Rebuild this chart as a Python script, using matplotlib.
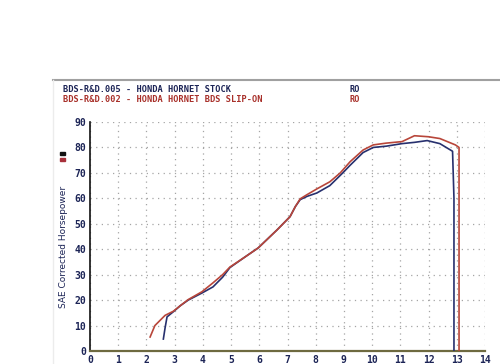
import matplotlib
matplotlib.use("Agg")
import matplotlib.pyplot as plt
from matplotlib.lines import Line2D
from matplotlib.patches import Rectangle

# RPM (x1000) and SAE corrected horsepower
stock_rpm = [2.60, 2.66, 2.73, 2.85, 2.95, 3.2, 3.48, 3.97, 4.36, 4.7, 4.96, 5.5, 5.96, 6.63, 7.09,
             7.28, 7.45, 7.7, 8.04, 8.5, 8.96, 9.22, 9.68, 10.04, 10.5, 11.06, 11.5, 11.95, 12.4,
             12.85, 12.90, 12.90]
stock_hp = [4.7, 9.0, 13.4, 14.5, 15.4, 17.8, 20.0, 22.8, 25.2, 29.0, 32.8, 37.0, 40.5, 47.6, 52.8,
            56.8, 59.5, 60.8, 62.1, 65.0, 70.0, 73.0, 78.0, 80.0, 80.5, 81.5, 82.0, 82.7, 81.5,
            78.5, 60.0, 0.0]

slipon_rpm = [2.13, 2.3, 2.66, 2.95, 3.2, 3.48, 3.97, 4.36, 4.7, 4.96, 5.5, 5.96, 6.63, 7.09,
              7.28, 7.45, 7.7, 8.04, 8.5, 8.87, 9.22, 9.68, 10.04, 10.5, 11.06, 11.5, 12.0, 12.4,
              12.95, 13.08, 13.08]
slipon_hp = [5.5, 10.0, 14.0, 15.6, 17.8, 20.2, 23.3, 26.8, 30.0, 33.0, 37.0, 40.5, 47.6, 52.8,
             56.8, 59.8, 61.5, 63.7, 66.5, 70.0, 74.4, 79.0, 81.0, 81.7, 82.3, 84.6, 84.2, 83.5,
             81.0, 80.0, 0.0]

x_ticks = list(range(0, 15))
y_ticks = list(range(0, 91, 10))

navy = "#1c2456"
red = "#a8302a"

fig = plt.figure(figsize=(5.0, 3.64), dpi=100)
ax = fig.add_axes([0.18, 13/364, 0.79, 229/364])

ax.plot(stock_rpm, stock_hp, color="#27306e", lw=1.2, zorder=3)
ax.plot(slipon_rpm, slipon_hp, color="#b8463a", lw=1.2, zorder=3)

ax.set_xlim(0, 14)
ax.set_ylim(0, 90)
ax.set_xticks(x_ticks)
ax.set_yticks(y_ticks)
ax.grid(True, color="#a5a5a5", linestyle=(0, (1, 3.5)), linewidth=0.9)
for s in ["top", "right"]:
    ax.spines[s].set_visible(False)
ax.spines["left"].set_color("#111111")
ax.spines["left"].set_linewidth(1.2)
ax.spines["bottom"].set_color("#6e6a40")
ax.spines["bottom"].set_linewidth(1.6)
ax.tick_params(length=0, labelsize=7, colors=navy, pad=3)
for lab in ax.get_xticklabels() + ax.get_yticklabels():
    lab.set_family("DejaVu Sans Mono")
    lab.set_fontweight("bold")

fig.text(63/500, 1 - 247/364, "SAE Corrected Horsepower", rotation=90, ha="center", va="center",
         fontsize=6.5, color=navy, family="DejaVu Sans")

# small legend swatches
fig.patches.append(Rectangle((60/500, 1 - 155/364), 5/500, 3.5/364, transform=fig.transFigure,
                             color="#111111", zorder=5))
fig.patches.append(Rectangle((60/500, 1 - 161/364), 5/500, 3.5/364, transform=fig.transFigure,
                             color="#a8303a", zorder=5))

# header line
fig.add_artist(Line2D([53/500, 1.0], [1 - 80/364, 1 - 80/364], color="#a0a0a0", lw=1.5,
                      transform=fig.transFigure))
fig.add_artist(Line2D([53/500, 53/500], [1 - 80/364, 0], color="#ececec", lw=1.0,
                      transform=fig.transFigure))

fig.text(63/500, 1 - 90/364, "BDS-R&D.005 - HONDA HORNET STOCK", ha="left", va="center",
         fontsize=6.2, color=navy, family="DejaVu Sans Mono", fontweight="bold")
fig.text(63/500, 1 - 100/364, "BDS-R&D.002 - HONDA HORNET BDS SLIP-ON", ha="left", va="center",
         fontsize=6.2, color=red, family="DejaVu Sans Mono", fontweight="bold")
fig.text(350/500, 1 - 90/364, "RO", ha="left", va="center",
         fontsize=6.2, color=navy, family="DejaVu Sans Mono", fontweight="bold")
fig.text(350/500, 1 - 100/364, "RO", ha="left", va="center",
         fontsize=6.2, color=red, family="DejaVu Sans Mono", fontweight="bold")

fig.savefig("out.png", dpi=100)
